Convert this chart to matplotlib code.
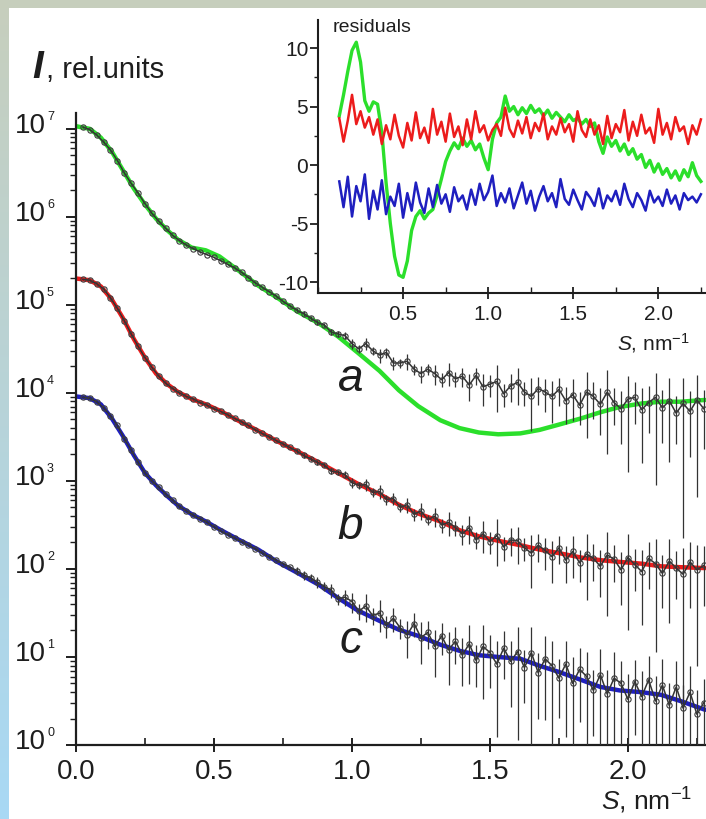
import numpy as np
import matplotlib
matplotlib.use('Agg')
import matplotlib.pyplot as plt
from matplotlib.ticker import LogLocator, MultipleLocator, FixedLocator, NullFormatter

plt.rcParams['font.family'] = ['Liberation Sans', 'DejaVu Sans']
plt.rcParams['mathtext.fontset'] = 'custom'
plt.rcParams['mathtext.rm'] = 'Liberation Sans'
plt.rcParams['mathtext.it'] = 'Liberation Sans:italic'
plt.rcParams['mathtext.bf'] = 'Liberation Sans:bold'
plt.rcParams['axes.unicode_minus'] = False

# ---- main curves: smooth model fits (log10 I) ----
s_fit = [0.0, 0.05, 0.09, 0.13, 0.17, 0.21, 0.25, 0.29, 0.33, 0.37,
         0.42, 0.47, 0.52, 0.585, 0.66, 0.73, 0.80, 0.88, 0.95, 1.02,
         1.10, 1.17, 1.24, 1.32, 1.39, 1.46, 1.53, 1.61, 1.68, 1.75,
         1.83, 1.90, 1.97, 2.05, 2.12, 2.19, 2.28]
fit_a = [7.03, 7.00, 6.90, 6.74, 6.53, 6.32, 6.14, 5.98, 5.85, 5.74,
         5.65, 5.62, 5.55, 5.40, 5.22, 5.08, 4.93, 4.79, 4.64, 4.46,
         4.25, 4.03, 3.85, 3.69, 3.60, 3.55, 3.53, 3.54, 3.58, 3.64,
         3.71, 3.78, 3.84, 3.88, 3.90, 3.90, 3.92]
fit_b = [5.30, 5.28, 5.21, 5.06, 4.85, 4.61, 4.40, 4.22, 4.10, 4.01,
         3.93, 3.87, 3.80, 3.69, 3.57, 3.45, 3.34, 3.21, 3.09, 2.97,
         2.85, 2.73, 2.63, 2.54, 2.44, 2.37, 2.32, 2.27, 2.22, 2.18,
         2.13, 2.10, 2.08, 2.06, 2.03, 2.02, 2.01]
fit_c = [3.96, 3.94, 3.87, 3.71, 3.51, 3.29, 3.09, 2.95, 2.83, 2.72,
         2.62, 2.54, 2.45, 2.34, 2.22, 2.08, 1.96, 1.82, 1.67, 1.53,
         1.41, 1.31, 1.24, 1.14, 1.07, 1.02, 1.00, 0.98, 0.90, 0.83,
         0.74, 0.66, 0.62, 0.60, 0.57, 0.50, 0.40]

# ---- experimental points (log10 I) and relative errors ----
s_data = [0.025, 0.05, 0.075, 0.1, 0.125, 0.15, 0.175, 0.2, 0.225, 0.25,
          0.275, 0.3, 0.325, 0.35, 0.375, 0.4, 0.425, 0.45, 0.475, 0.5,
          0.525, 0.55, 0.575, 0.6, 0.625, 0.65, 0.675, 0.7, 0.725, 0.75,
          0.775, 0.8, 0.825, 0.85, 0.875, 0.9, 0.925, 0.95, 0.975, 1.0,
          1.025, 1.05, 1.075, 1.1, 1.125, 1.15, 1.175, 1.2, 1.225, 1.25,
          1.275, 1.3, 1.325, 1.35, 1.375, 1.4, 1.425, 1.45, 1.475, 1.5,
          1.525, 1.55, 1.575, 1.6, 1.625, 1.65, 1.675, 1.7, 1.725, 1.75,
          1.775, 1.8, 1.825, 1.85, 1.875, 1.9, 1.925, 1.95, 1.975, 2.0,
          2.025, 2.05, 2.075, 2.1, 2.125, 2.15, 2.175, 2.2, 2.225, 2.25,
          2.275]
data_a = [7.02, 6.99, 6.93, 6.85, 6.76, 6.64, 6.50, 6.38, 6.27, 6.15,
          6.04, 5.95, 5.87, 5.79, 5.73, 5.68, 5.64, 5.60, 5.57, 5.54,
          5.50, 5.46, 5.42, 5.37, 5.31, 5.25, 5.20, 5.15, 5.10, 5.04,
          4.99, 4.94, 4.90, 4.85, 4.80, 4.77, 4.69, 4.67, 4.65, 4.56,
          4.50, 4.56, 4.48, 4.43, 4.46, 4.34, 4.34, 4.36, 4.27, 4.22,
          4.27, 4.22, 4.15, 4.23, 4.16, 4.19, 4.09, 4.20, 4.07, 4.10,
          4.13, 3.99, 4.08, 4.12, 4.01, 3.96, 4.05, 4.01, 3.96, 4.04,
          3.91, 3.98, 3.86, 4.01, 3.96, 3.87, 4.01, 3.89, 3.82, 3.93,
          3.95, 3.81, 3.89, 3.95, 3.83, 3.91, 3.77, 3.88, 3.79, 3.92,
          3.82]
data_b = [5.29, 5.28, 5.24, 5.18, 5.08, 4.96, 4.82, 4.67, 4.53, 4.40,
          4.29, 4.19, 4.11, 4.05, 4.00, 3.96, 3.93, 3.89, 3.86, 3.82,
          3.79, 3.75, 3.71, 3.67, 3.63, 3.58, 3.54, 3.50, 3.46, 3.42,
          3.38, 3.34, 3.29, 3.25, 3.21, 3.18, 3.11, 3.10, 3.07, 2.98,
          2.95, 2.96, 2.87, 2.88, 2.79, 2.80, 2.70, 2.73, 2.62, 2.66,
          2.56, 2.60, 2.50, 2.53, 2.47, 2.40, 2.47, 2.33, 2.40, 2.31,
          2.38, 2.25, 2.33, 2.32, 2.24, 2.18, 2.27, 2.21, 2.14, 2.24,
          2.10, 2.20, 2.07, 2.17, 2.12, 2.03, 2.16, 2.11, 1.99, 2.13,
          2.05, 1.97, 2.12, 2.06, 1.95, 2.09, 2.01, 1.94, 2.08, 1.99,
          2.04]
data_c = [3.95, 3.94, 3.90, 3.83, 3.74, 3.63, 3.48, 3.35, 3.21, 3.09,
          3.00, 2.93, 2.85, 2.78, 2.71, 2.66, 2.61, 2.57, 2.53, 2.48,
          2.43, 2.39, 2.35, 2.31, 2.27, 2.23, 2.18, 2.14, 2.10, 2.06,
          2.02, 1.98, 1.93, 1.90, 1.85, 1.80, 1.76, 1.66, 1.68, 1.63,
          1.52, 1.58, 1.47, 1.50, 1.36, 1.44, 1.33, 1.25, 1.38, 1.22,
          1.28, 1.12, 1.24, 1.08, 1.18, 1.02, 1.15, 0.96, 1.12, 1.05,
          0.92, 1.10, 0.95, 1.06, 0.88, 1.05, 0.82, 0.98, 0.90, 0.76,
          0.92, 0.70, 0.86, 0.78, 0.62, 0.80, 0.58, 0.76, 0.70, 0.52,
          0.72, 0.55, 0.74, 0.50, 0.68, 0.45, 0.66, 0.42, 0.60, 0.35,
          0.48]
rel_err_ab = [0.02] * 30 + [
    0.02, 0.05, 0.06, 0.05, 0.07, 0.06, 0.08, 0.07, 0.09, 0.12,
    0.10, 0.15, 0.11, 0.18, 0.13, 0.16, 0.12, 0.20, 0.15, 0.22,
    0.14, 0.25, 0.18, 0.30, 0.20, 0.25, 0.35, 0.22, 0.40, 0.28,
    0.55, 0.30, 0.35, 0.45, 0.30, 0.60, 0.35, 0.40, 0.50, 0.35,
    0.45, 0.50, 0.40, 0.70, 0.45, 0.55, 0.80, 0.45, 0.60, 0.85,
    0.50, 0.75, 0.55, 0.90, 0.60, 0.80, 0.55, 0.97, 0.70, 0.92,
    0.65]
rel_err_c = [0.03] * 30 + [
    0.03, 0.10, 0.12, 0.09, 0.15, 0.12, 0.18, 0.14, 0.20, 0.25,
    0.20, 0.35, 0.22, 0.40, 0.28, 0.30, 0.25, 0.45, 0.30, 0.50,
    0.35, 0.55, 0.40, 0.60, 0.45, 0.55, 0.65, 0.50, 0.75, 0.60,
    0.85, 0.55, 0.70, 0.90, 0.60, 0.96, 0.70, 0.80, 0.93, 0.65,
    0.85, 0.97, 0.75, 0.90, 0.70, 0.95, 0.85, 0.97, 0.80, 0.92,
    0.75, 0.97, 0.85, 0.90, 0.98, 0.80, 0.95, 0.85, 0.97, 0.90,
    0.88]

# ---- inset residuals ----
s_res = [0.125, 0.15, 0.175, 0.2, 0.225, 0.25, 0.275, 0.3, 0.325, 0.35,
         0.375, 0.4, 0.425, 0.45, 0.475, 0.5, 0.525, 0.55, 0.575, 0.6,
         0.625, 0.65, 0.675, 0.7, 0.725, 0.75, 0.775, 0.8, 0.825, 0.85,
         0.875, 0.9, 0.925, 0.95, 0.975, 1.0, 1.025, 1.05, 1.075, 1.1,
         1.125, 1.15, 1.175, 1.2, 1.225, 1.25, 1.275, 1.3, 1.325, 1.35,
         1.375, 1.4, 1.425, 1.45, 1.475, 1.5, 1.525, 1.55, 1.575, 1.6,
         1.625, 1.65, 1.675, 1.7, 1.725, 1.75, 1.775, 1.8, 1.825, 1.85,
         1.875, 1.9, 1.925, 1.95, 1.975, 2.0, 2.025, 2.05, 2.075, 2.1,
         2.125, 2.15, 2.175, 2.2, 2.225, 2.25]
res_a = [4.2, 6.0, 8.0, 9.8, 10.5, 8.8, 5.5, 4.6, 5.4, 5.2,
         2.8, -1.5, -5.0, -7.8, -9.4, -9.6, -8.2, -5.6, -4.4, -3.9,
         -4.6, -4.1, -3.8, -2.6, -1.2, 0.3, 1.2, 1.9, 1.4, 2.3,
         1.6, 2.1, 1.3, 1.8, 0.6, -0.4, 2.2, 3.6, 4.1, 5.9,
         4.6, 5.0, 4.3, 4.9, 4.4, 5.1, 4.5, 4.8, 4.2, 4.7,
         4.0, 4.5, 4.1, 3.7, 4.3, 3.8, 4.0, 3.5, 3.9, 3.3,
         3.6, 2.0, 1.0, 2.4, 1.6, 2.1, 1.2, 1.8, 0.9, 1.4,
         0.5, 0.9, -0.2, 0.4, -0.6, 0.1, -0.8, -0.3, -1.1, -0.5,
         -1.3, -0.4, -1.0, 0.2, -0.9, -1.4]
res_b = [4.0, 2.0, 3.8, 6.0, 3.5, 4.6, 3.2, 4.1, 2.6, 3.9,
         1.8, 3.4, 2.2, 4.3, 2.5, 1.5, 3.6, 2.1, 4.5, 2.3,
         3.2, 1.9, 4.8, 2.6, 3.7, 2.0, 4.4, 2.4, 3.3, 1.7,
         3.9, 2.2, 4.6, 2.8, 3.4, 2.1, 3.0, 3.5, 2.5, 4.9,
         3.1, 2.4, 3.8, 2.7, 4.1, 2.3, 3.6, 2.9, 4.4, 2.2,
         3.3, 2.6, 4.0, 2.8, 3.5, 2.0, 4.6, 3.0, 2.4, 3.9,
         2.6, 3.4, 1.8, 4.2, 2.3, 3.5, 2.8, 4.7, 2.1, 3.7,
         2.5, 4.3, 2.7, 3.2, 1.9, 4.8, 2.6, 3.6, 2.2, 4.1,
         2.9, 3.3, 1.8, 3.4, 2.6, 3.9]
res_c = [-1.4, -3.6, -1.0, -4.4, -1.8, -3.1, -0.8, -4.6, -2.2, -3.8,
         -1.3, -4.2, -2.7, -3.5, -1.6, -4.5, -2.4, -3.9, -1.5, -3.2,
         -4.1, -2.0, -3.6, -1.7, -3.3, -2.5, -4.0, -1.9, -3.1, -2.6,
         -3.8, -2.1, -3.4, -1.6, -3.0, -2.3, -0.9, -3.5, -2.4, -3.2,
         -2.0, -3.7, -2.6, -1.5, -3.3, -2.2, -3.9, -2.7, -1.8, -3.1,
         -2.4, -3.6, -1.2, -2.9, -3.4, -2.1, -3.0, -3.8, -2.3, -2.8,
         -3.5, -2.0, -3.7, -2.6, -3.1, -2.2, -3.4, -1.6, -2.9, -3.6,
         -2.4, -3.0, -3.9, -2.2, -3.2, -2.7, -3.5, -2.1, -3.3, -2.6,
         -3.8, -2.4, -3.0, -2.7, -3.2, -2.5]

GREEN = '#2bdf2b'
RED = '#ec1c1c'
BLUE = '#1f1fbf'
INK = '#1e1e1e'

W, H = 706, 819
fig = plt.figure(figsize=(W / 100, H / 100), dpi=100)


def box(x0, y0, x1, y1):
    # pixel box (top-left origin) -> figure fraction
    return [x0 / W, 1 - y1 / H, (x1 - x0) / W, (y1 - y0) / H]


# framed background: grey-green top strip, left strip fading to light blue
bg = fig.add_axes([0, 0, 1, 1])
img = np.ones((H, W, 3))
c_top = np.array([0.78, 0.81, 0.74])
c_bot = np.array([0.66, 0.85, 0.96])
t = np.linspace(0, 1, H)[:, None]
img[:, :9] = (c_top * (1 - t) + c_bot * t)[:, None, :]
img[:8] = c_top
bg.imshow(img, aspect='auto', extent=[0, 1, 0, 1])
bg.axis('off')

# ---- main plot ----
ax = fig.add_axes(box(76, 113, 706, 745))
ax.patch.set_alpha(0)
ax.set_yscale('log')
ax.set_xlim(0, 2.283)
ax.set_ylim(1, 10 ** 7.18)

for fit, col in [(fit_a, GREEN), (fit_b, RED), (fit_c, BLUE)]:
    ax.plot(s_fit, 10 ** np.array(fit), color=col, lw=3.2, zorder=2,
            solid_capstyle='round', solid_joinstyle='round')

for dat, err in [(data_a, rel_err_ab), (data_b, rel_err_ab), (data_c, rel_err_c)]:
    inten = 10 ** np.array(dat)
    ax.errorbar(s_data, inten, yerr=inten * np.array(err), fmt='-o', ms=3.8,
                color='#333333', lw=1.1, mfc='none', mec='#3c3c3c', mew=0.8,
                ecolor='#333333', elinewidth=0.9, capsize=0, zorder=3)

for sp in ['top', 'right']:
    ax.spines[sp].set_visible(False)
for sp in ['left', 'bottom']:
    ax.spines[sp].set_linewidth(1.6)
    ax.spines[sp].set_color(INK)

ax.yaxis.set_major_locator(LogLocator(base=10, numticks=20))
ax.yaxis.set_minor_locator(LogLocator(base=10, subs=np.arange(2, 10), numticks=20))
ax.yaxis.set_minor_formatter(NullFormatter())
ax.tick_params(axis='y', which='major', direction='out', length=7, width=1.4,
               color=INK, labelleft=False)
ax.tick_params(axis='y', which='minor', direction='out', length=4, width=1.0, color=INK)

for k in range(8):
    ax.annotate('10', xy=(0, 10 ** k), xycoords=('axes fraction', 'data'),
                xytext=(-30, 3), textcoords='offset pixels', ha='right', va='center',
                fontsize=20, color=INK, annotation_clip=False)
    ax.annotate(str(k), xy=(0, 10 ** k), xycoords=('axes fraction', 'data'),
                xytext=(-29, 12), textcoords='offset pixels', ha='left', va='center',
                fontsize=9, color=INK, annotation_clip=False)

ax.xaxis.set_major_locator(FixedLocator([0.0, 0.5, 1.0, 1.5, 2.0]))
ax.xaxis.set_minor_locator(MultipleLocator(0.25))
ax.set_xticklabels(['0.0', '0.5', '1.0', '1.5', '2.0'])
ax.tick_params(axis='x', which='major', direction='inout', length=10, width=1.4,
               color=INK, labelsize=20, labelcolor=INK, pad=5)
ax.tick_params(axis='x', which='minor', direction='in', length=5, width=1.2, color=INK)

for lab, yl in [('a', 4.02), ('b', 2.34), ('c', 1.045)]:
    ax.text(0.995, 10 ** yl, lab, style='italic', fontsize=33, ha='center',
            va='baseline', color=INK, zorder=5)

fig.text(32 / W, 1 - 78 / H, 'I', fontsize=28, fontweight='bold', style='italic',
         va='baseline', ha='left', color=INK)
fig.text(46 / W, 1 - 78 / H, ', rel.units', fontsize=21, va='baseline', ha='left',
         color=INK)
fig.text(692 / W, 1 - 810 / H, r'$S$, nm$^{-1}$', fontsize=19, ha='right',
         va='baseline', color=INK)

# ---- inset: residuals ----
ins = fig.add_axes(box(318, 20, 706, 293))
ins.patch.set_alpha(0)
ins.set_xlim(0, 2.28)
ins.set_ylim(-10.94, 12.4)
ins.plot(s_res, res_a, color=GREEN, lw=2.4, zorder=2)
ins.plot(s_res, res_b, color=RED, lw=1.8, zorder=3)
ins.plot(s_res, res_c, color=BLUE, lw=1.8, zorder=4)

for sp in ['top', 'right']:
    ins.spines[sp].set_visible(False)
for sp in ['left', 'bottom']:
    ins.spines[sp].set_linewidth(1.5)
    ins.spines[sp].set_color(INK)

ins.yaxis.set_major_locator(FixedLocator([-10, -5, 0, 5, 10]))
ins.yaxis.set_minor_locator(MultipleLocator(2.5))
ins.xaxis.set_major_locator(FixedLocator([0.5, 1.0, 1.5, 2.0]))
ins.xaxis.set_minor_locator(MultipleLocator(0.25))
ins.set_xticklabels(['0.5', '1.0', '1.5', '2.0'])
ins.tick_params(axis='y', which='major', direction='out', length=6, width=1.3,
                color=INK, labelsize=15, labelcolor=INK, pad=1)
ins.tick_params(axis='y', which='minor', direction='out', length=3, width=1.0, color=INK)
ins.tick_params(axis='x', which='major', direction='inout', length=8, width=1.3,
                color=INK, labelsize=15, labelcolor=INK, pad=5)
ins.tick_params(axis='x', which='minor', direction='in', length=4, width=1.0, color=INK)

fig.text(333 / W, 1 - 27 / H, 'residuals', fontsize=14, ha='left', va='center',
         color=INK)
fig.text(690 / W, 1 - 343 / H, r'$S$, nm$^{-1}$', fontsize=15, ha='right',
         va='center', color=INK)

fig.savefig('out.png', dpi=100)
